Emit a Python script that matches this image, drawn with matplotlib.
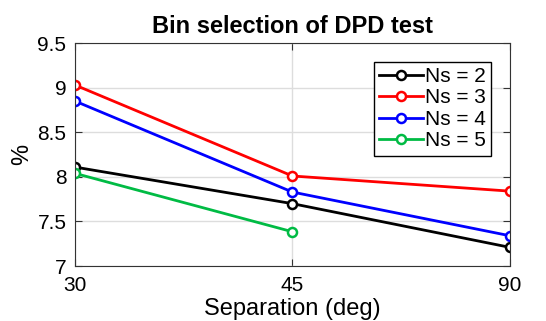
import numpy as np
import matplotlib.pyplot as plt

plt.rcParams['font.family'] = ['Liberation Sans', 'DejaVu Sans']

separation = ['30', '45', '90']
ns2 = [8.11, 7.70, 7.21]
ns3 = [9.03, 8.01, 7.84]
ns4 = [8.85, 7.83, 7.34]
ns5 = [8.04, 7.385, np.nan]

series = [('Ns = 2', ns2, 'black'),
          ('Ns = 3', ns3, 'red'),
          ('Ns = 4', ns4, 'blue'),
          ('Ns = 5', ns5, '#00bb44')]

fig = plt.figure(figsize=(5.46, 3.21), dpi=100)
ax = fig.add_axes([0.137, 0.171, 0.797, 0.695])

x = np.arange(len(separation))
for label, vals, col in series:
    ax.plot(x, vals, '-o', color=col, lw=2, ms=6.5, mew=1.8,
            mfc='white', label=label)

ax.set_xlim(0, 2)
ax.set_ylim(7, 9.5)
ax.set_xticks(x)
ax.set_xticklabels(separation)
ax.set_yticks([7, 7.5, 8, 8.5, 9, 9.5])
ax.set_yticklabels(['7', '7.5', '8', '8.5', '9', '9.5'])
ax.grid(True, color='#dddddd', lw=1)
ax.set_axisbelow(True)
ax.tick_params(direction='in', top=True, right=True, labelsize=15,
               color='#333333', length=5)
ax.tick_params(axis='x', pad=7)
ax.tick_params(axis='y', pad=6)
for s in ax.spines.values():
    s.set_color('#333333')

ax.set_title('Bin selection of DPD test', fontsize=17, fontweight='bold', pad=7)
ax.set_xlabel('Separation (deg)', fontsize=17, labelpad=2)
ax.set_ylabel('%', fontsize=17, labelpad=3)

leg = ax.legend(loc='upper right', fontsize=15, fancybox=False,
                edgecolor='black', framealpha=1, handlelength=2.1,
                handletextpad=0.1, borderpad=0.25, labelspacing=0.12,
                borderaxespad=0.9)
leg.get_frame().set_linewidth(1)

fig.savefig('out.png', dpi=100)
